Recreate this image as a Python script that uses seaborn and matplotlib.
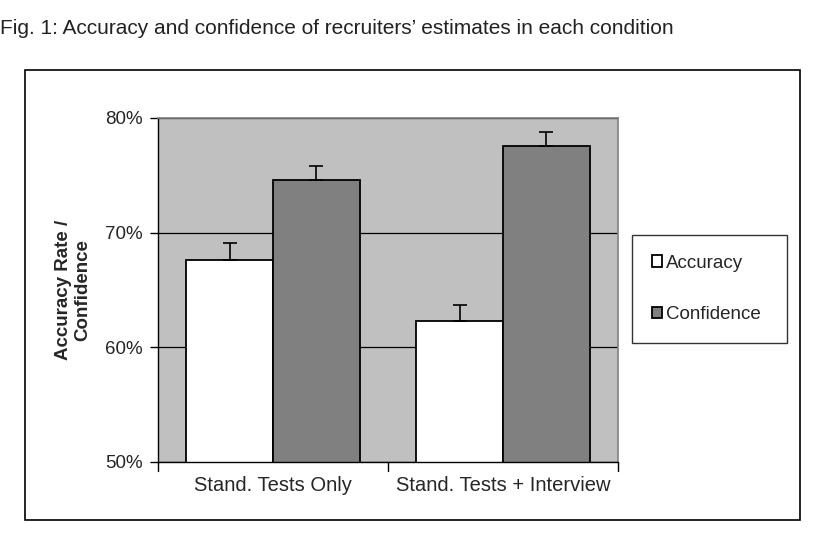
import matplotlib
matplotlib.use("Agg")
import matplotlib.pyplot as plt
from matplotlib.patches import Rectangle
from matplotlib import font_manager
import seaborn as sns
import pandas as pd
import numpy as np

categories = ["Stand. Tests Only", "Stand. Tests + Interview"]
series = ["Accuracy", "Confidence"]
accuracy = [67.6, 62.3]
confidence = [74.6, 77.6]
accuracy_err = [1.5, 1.4]
confidence_err = [1.2, 1.2]
yticks = [50, 60, 70, 80]
ytick_labels = ["50%", "60%", "70%", "80%"]

df = pd.DataFrame({
    "cond": categories * 2,
    "series": [series[0]] * 2 + [series[1]] * 2,
    "value": accuracy + confidence,
    "err": accuracy_err + confidence_err,
})

sns.set_theme(style="white")
names = {f.name for f in font_manager.fontManager.ttflist}
narrow = "Liberation Sans Narrow" if "Liberation Sans Narrow" in names else "Liberation Sans"
plt.rcParams["font.family"] = ["Liberation Sans", "DejaVu Sans"]

fig = plt.figure(figsize=(8.2, 5.33), dpi=100)
ax = fig.add_axes([158/820, 1-462/533, 460/820, 344/533])

sns.barplot(data=df, x="cond", y="value", hue="series", order=categories,
            hue_order=series, palette={"Accuracy": "white", "Confidence": "#808080"},
            edgecolor="black", linewidth=1.3, width=0.756, errorbar=None, ax=ax,
            saturation=1, legend=True)

# error bars (upper only) at bar centres
for container, s in zip(ax.containers, series):
    sub = df[df.series == s].set_index("cond").loc[categories]
    for bar, v, e in zip(container, sub["value"], sub["err"]):
        xc = bar.get_x() + bar.get_width() / 2
        ax.errorbar([xc], [v], yerr=[[0], [e]], fmt="none", ecolor="black",
                    elinewidth=1.2, capsize=5, capthick=1.2, zorder=3)

ax.set_facecolor("#C0C0C0")
ax.set_ylim(50, 80)
ax.set_xlim(-0.5, 1.5)
ax.set_yticks(yticks)
ax.set_yticklabels(ytick_labels, fontsize=13.5)
ax.yaxis.grid(True, color="black", linewidth=0.9)
ax.set_axisbelow(True)
ax.tick_params(axis="y", length=6, width=1, color="black", left=True, pad=5)
ax.tick_params(axis="x", length=0, pad=10, labelsize=14.5)
ax.set_xlabel("")
ax.set_ylabel("Accuracy Rate /\nConfidence", fontsize=13.5, fontweight="bold",
              labelpad=10, linespacing=1.15)
for x in [-0.5, 0.5, 1.5]:
    ax.plot([x, x], [0, -0.025], transform=ax.get_xaxis_transform(), color="black",
            lw=1, clip_on=False)
for side in ["left", "bottom"]:
    ax.spines[side].set_color("black")
    ax.spines[side].set_linewidth(1)
for side in ["top", "right"]:
    ax.spines[side].set_color("#808080")
    ax.spines[side].set_linewidth(1.2)

handles, labels = ax.get_legend_handles_labels()
ax.legend_.remove()
leg = fig.legend(handles, labels, loc="upper left",
                 bbox_to_anchor=(632/820, 1-340/533, 155/820, 105/533),
                 bbox_transform=fig.transFigure, fontsize=13.5, frameon=True,
                 fancybox=False, edgecolor="black", handlelength=0.55,
                 handleheight=0.55, handletextpad=0.2, labelspacing=1.85,
                 borderpad=1.05, borderaxespad=0, mode="expand")
leg.get_frame().set_linewidth(1)

fig.patches.append(Rectangle((25/820, 1-520/533), 775/820, 450/533,
                             transform=fig.transFigure, fill=False,
                             edgecolor="black", linewidth=1.2))

fig.text(0.0, 1-28/533, "Fig. 1: Accuracy and confidence of recruiters\u2019 estimates in each condition",
         fontsize=15, family=[narrow, "DejaVu Sans"], va="center", ha="left", color="#222222")

fig.savefig("out.png", dpi=100)
